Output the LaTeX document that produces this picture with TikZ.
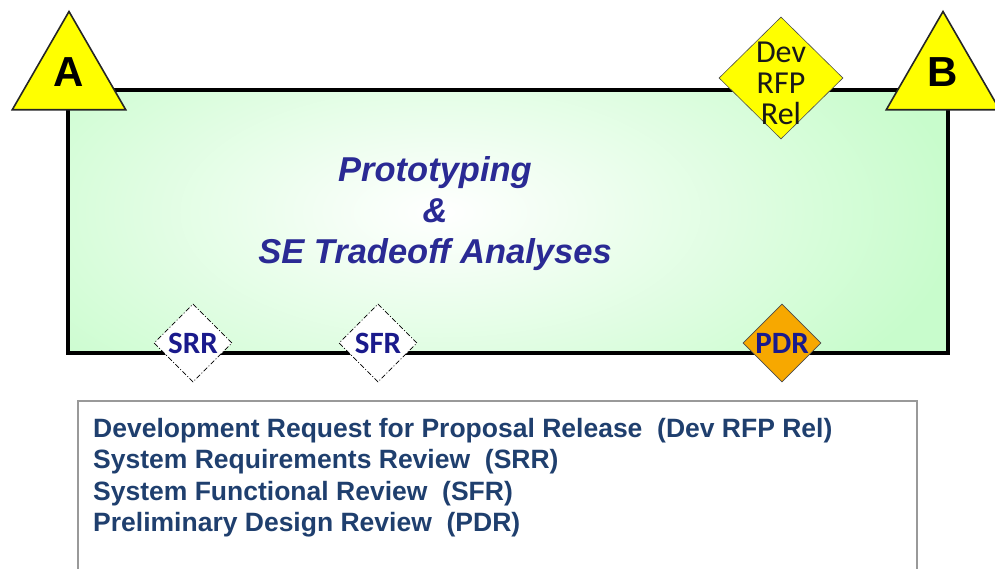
\documentclass[tikz,border=0pt]{standalone}
\usepackage{fontspec}
\setmainfont{Liberation Sans}
\newfontfamily\calibri{Carlito}
\usetikzlibrary{shapes.geometric,positioning}

\definecolor{phasegreen}{RGB}{200,252,204}
\definecolor{gateyellow}{RGB}{255,255,0}
\definecolor{revorange}{RGB}{247,168,0}
\definecolor{titleblue}{RGB}{42,42,148}
\definecolor{revnavy}{RGB}{26,26,140}
\definecolor{legendblue}{RGB}{31,63,110}

\begin{document}
\begin{tikzpicture}
	[x=1pt,y=-1pt,
	gate/.style={regular polygon,regular polygon sides=3,draw=black!85,fill=gateyellow,
		line width=1.6pt,inner sep=0pt,minimum size=131pt},
	gatetext/.style={font=\fontsize{42}{42}\selectfont\bfseries,yshift=5pt},
	review/.style={diamond,draw=black!80,line width=0.6pt,inner sep=0pt,
		minimum width=78pt,minimum height=78pt,text=revnavy,
		font=\calibri\fontsize{31}{31}\selectfont\bfseries},
	review0/.style={review,fill=white,draw=black,dash pattern=on 5pt off 2pt on 1pt off 2pt},
	review1/.style={review,fill=revorange,draw=black!70},
	rfp/.style={diamond,draw=black!70,fill=gateyellow,line width=0.6pt,
		inner sep=0pt,minimum width=124pt,minimum height=122pt}]
\useasboundingbox (0,0) rectangle (995,569);
%fase
\fill[phasegreen] (68,90) rectangle (948,353);
\begin{scope}
\clip (68,90) rectangle (948,353);
\shade[inner color=white,outer color=phasegreen] (440,212) ellipse (520 and 250);
\end{scope}
\draw[black,line width=4.5pt,line join=miter] (68,90) -- (948,90) -- (948,353) -- (68,353) -- cycle;
\node (fase) at (435,214) [align=center,text=titleblue,
	font=\fontsize{34.5}{41}\selectfont\bfseries\itshape]
	{Prototyping\\\&\\SE Tradeoff Analyses};
%hitos
\node (A) at (69,77) [gate,label={[gatetext]center:A}] {};
\node (B) at (943,77) [gate,label={[gatetext]center:B}] {};
\node (devrfp) at (781,78) [rfp,
	label={[font=\calibri\fontsize{32}{31}\selectfont,text=black!90,align=center,yshift=-5pt]center:Dev\\RFP\\Rel}] {};
%revisiones
\node (srr) at (193,343) [review0] {SRR};
\node (sfr) at (378,343) [review0] {SFR};
\node (pdr) at (782,343) [review1] {PDR};
%leyenda
\draw[black!40,line width=1.2pt] (78,600) -- (78,401) -- (917,401) -- (917,600);
\node (leyenda) at (93,418) [anchor=north west,align=left,inner sep=0pt,text=legendblue,
	font=\fontsize{26.5}{31.5}\selectfont\bfseries]
	{Development Request for Proposal Release~~(Dev RFP Rel)\\
	 System Requirements Review~~(SRR)\\
	 System Functional Review~~(SFR)\\
	 Preliminary Design Review~~(PDR)};
\end{tikzpicture}
\end{document}
